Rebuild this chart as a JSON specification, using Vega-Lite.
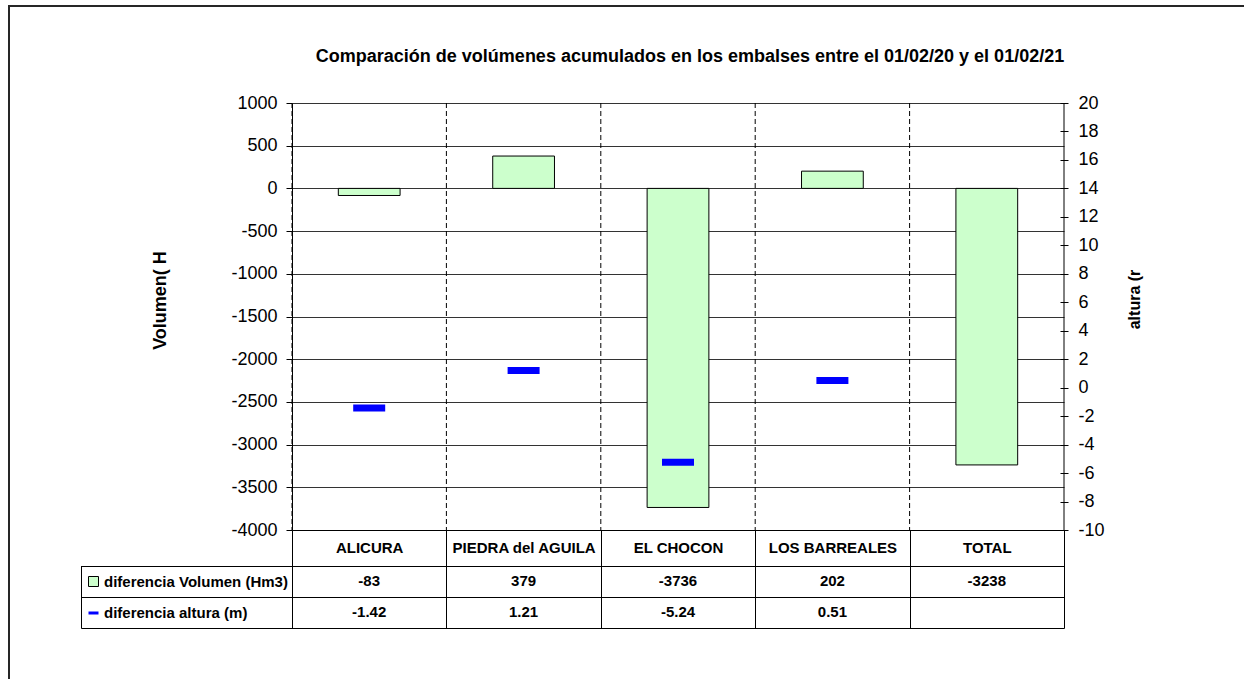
{
  "$schema": "https://vega.github.io/schema/vega-lite/v6.json",
  "width": 1236,
  "height": 674,
  "padding": {"left": 9, "top": 6, "right": 0, "bottom": 0},
  "title": {
    "text": "Comparación de volúmenes acumulados en los embalses entre el 01/02/20 y el 01/02/21",
    "font": "Liberation Sans",
    "fontSize": 18,
    "fontWeight": "bold",
    "color": "#000000",
    "anchor": "middle",
    "baseline": "middle",
    "offset": -69,
    "dx": 63
  },
  "data": {
    "values": [
      {"embalse": "ALICURA", "vol": -83, "alt": -1.42},
      {"embalse": "PIEDRA del AGUILA", "vol": 379, "alt": 1.21},
      {"embalse": "EL CHOCON", "vol": -3736, "alt": -5.24},
      {"embalse": "LOS BARREALES", "vol": 202, "alt": 0.51},
      {"embalse": "TOTAL", "vol": -3238, "alt": null}
    ]
  },
  "encoding": {
    "x": {
      "field": "embalse",
      "type": "nominal",
      "sort": null,
      "scale": {"range": [283, 1055], "paddingInner": 0, "paddingOuter": 0},
      "axis": {
        "orient": "bottom",
        "offset": -150,
        "title": null,
        "grid": false,
        "tickBand": "extent",
        "tickSize": 98,
        "labelPadding": -80.5,
        "labelBaseline": "middle",
        "labelAngle": 0,
        "labelFontSize": 15,
        "labelFontWeight": "bold",
        "labelOverlap": false,
        "labelLimit": 200
      }
    }
  },
  "layer": [
    {
      "encoding": {
        "y": {
          "field": "vol",
          "type": "quantitative",
          "scale": {"domain": [-4000, 1000], "range": [524, 97], "nice": false},
          "axis": {
            "orient": "left",
            "offset": -283,
            "values": [-4000, -3500, -3000, -2500, -2000, -1500, -1000, -500, 0, 500, 1000],
            "format": "d",
            "tickSize": 6,
            "labelPadding": 9,
            "labelFontSize": 18,
            "grid": true,
            "gridColor": "#333333",
            "gridWidth": 1,
            "title": "Volumen( H",
            "titleFontSize": 18,
            "titleFontWeight": "bold",
            "titleAngle": 270,
            "titleX": -132,
            "titleY": 294,
            "titleAlign": "center",
            "titleBaseline": "middle"
          }
        }
      },
      "layer": [
        {
          "mark": {"type": "rule", "strokeDash": [5, 3], "color": "#000000", "strokeWidth": 1},
          "encoding": {
            "x": {"field": "embalse", "type": "nominal", "sort": null, "bandPosition": 0},
            "y": {"datum": 1000},
            "y2": {"datum": -4000}
          }
        },
        {
          "transform": [{"filter": "datum.embalse === 'TOTAL'"}],
          "mark": {"type": "rule", "color": "#000000", "strokeWidth": 1},
          "encoding": {
            "x": {"field": "embalse", "type": "nominal", "sort": null, "bandPosition": 1},
            "y": {"datum": 1000},
            "y2": {"datum": -4000}
          }
        },
        {
          "mark": {"type": "bar", "width": {"band": 0.4}, "stroke": "#000000", "strokeWidth": 1},
          "encoding": {
            "fill": {
              "datum": "diferencia Volumen (Hm3)",
              "type": "nominal",
              "scale": {"domain": ["diferencia Volumen (Hm3)"], "range": ["#ccffcc"]},
              "legend": {
                "orient": "none",
                "legendX": 77,
                "legendY": 568,
                "title": null,
                "padding": 0,
                "symbolSize": 100,
                "symbolType": "square",
                "symbolStrokeColor": "#000000",
                "symbolStrokeWidth": 1,
                "symbolOpacity": 1,
                "labelFont": "Liberation Sans",
                "labelFontSize": 15,
                "labelFontWeight": "bold",
                "labelColor": "#000000",
                "labelLimit": 300,
                "labelOffset": 3
              }
            }
          }
        }
      ]
    },
    {
      "mark": {"type": "tick", "size": 32, "thickness": 7, "opacity": 1},
      "encoding": {
        "y": {
          "field": "alt",
          "type": "quantitative",
          "scale": {"domain": [-10, 20], "range": [524, 97], "nice": false},
          "axis": {
            "orient": "right",
            "offset": -185,
            "domain": false,
            "values": [-10, -8, -6, -4, -2, 0, 2, 4, 6, 8, 10, 12, 14, 16, 18, 20],
            "format": "d",
            "tickSize": 8,
            "labelPadding": 10,
            "labelFontSize": 18,
            "grid": false,
            "title": "altura (r",
            "titleFontSize": 16,
            "titleFontWeight": "bold",
            "titleAngle": 270,
            "titleX": 74,
            "titleY": 293,
            "titleAlign": "center",
            "titleBaseline": "middle"
          }
        },
        "color": {
          "datum": "diferencia altura (m)",
          "type": "nominal",
          "scale": {"domain": ["diferencia altura (m)"], "range": ["#0000ff"]},
          "legend": {
            "orient": "none",
            "legendX": 77,
            "legendY": 599.5,
            "title": null,
            "padding": 0,
            "symbolSize": 100,
            "symbolType": "stroke",
            "symbolStrokeColor": "#0000ff",
            "symbolStrokeWidth": 3,
            "symbolOpacity": 1,
            "labelFont": "Liberation Sans",
            "labelFontSize": 15,
            "labelFontWeight": "bold",
            "labelColor": "#000000",
            "labelLimit": 300,
            "labelOffset": 3
          }
        }
      }
    },
    {
      "layer": [
        {
          "mark": {"type": "text", "fontSize": 15, "fontWeight": "bold", "color": "#000000", "align": "center", "baseline": "middle"},
          "encoding": {
            "y": {
              "datum": "vol",
              "type": "nominal",
              "scale": {"type": "band", "domain": ["vol", "alt"], "range": [559.5, 622], "paddingInner": 0, "paddingOuter": 0},
              "axis": {
                "orient": "left",
                "offset": -72,
                "title": null,
                "labels": false,
                "grid": false,
                "tickBand": "extent",
                "tickSize": -983
              }
            },
            "text": {"field": "vol", "type": "nominal"}
          }
        },
        {
          "transform": [{"filter": "isValid(datum.alt)"}],
          "mark": {"type": "text", "fontSize": 15, "fontWeight": "bold", "color": "#000000", "align": "center", "baseline": "middle"},
          "encoding": {
            "y": {"datum": "alt", "type": "nominal"},
            "text": {"field": "alt", "type": "nominal"}
          }
        }
      ]
    }
  ],
  "resolve": {"scale": {"y": "independent"}, "axis": {"y": "independent"}},
  "config": {
    "font": "Liberation Sans",
    "locale": {
      "number": {"decimal": ".", "thousands": "", "grouping": [3], "currency": ["", ""], "minus": "-"}
    },
    "view": {"stroke": "#262626", "strokeWidth": 2},
    "axis": {
      "domainColor": "#000000",
      "tickColor": "#000000",
      "labelColor": "#000000",
      "titleColor": "#000000",
      "labelFont": "Liberation Sans",
      "titleFont": "Liberation Sans",
      "domainWidth": 1,
      "tickWidth": 1
    }
  }
}
